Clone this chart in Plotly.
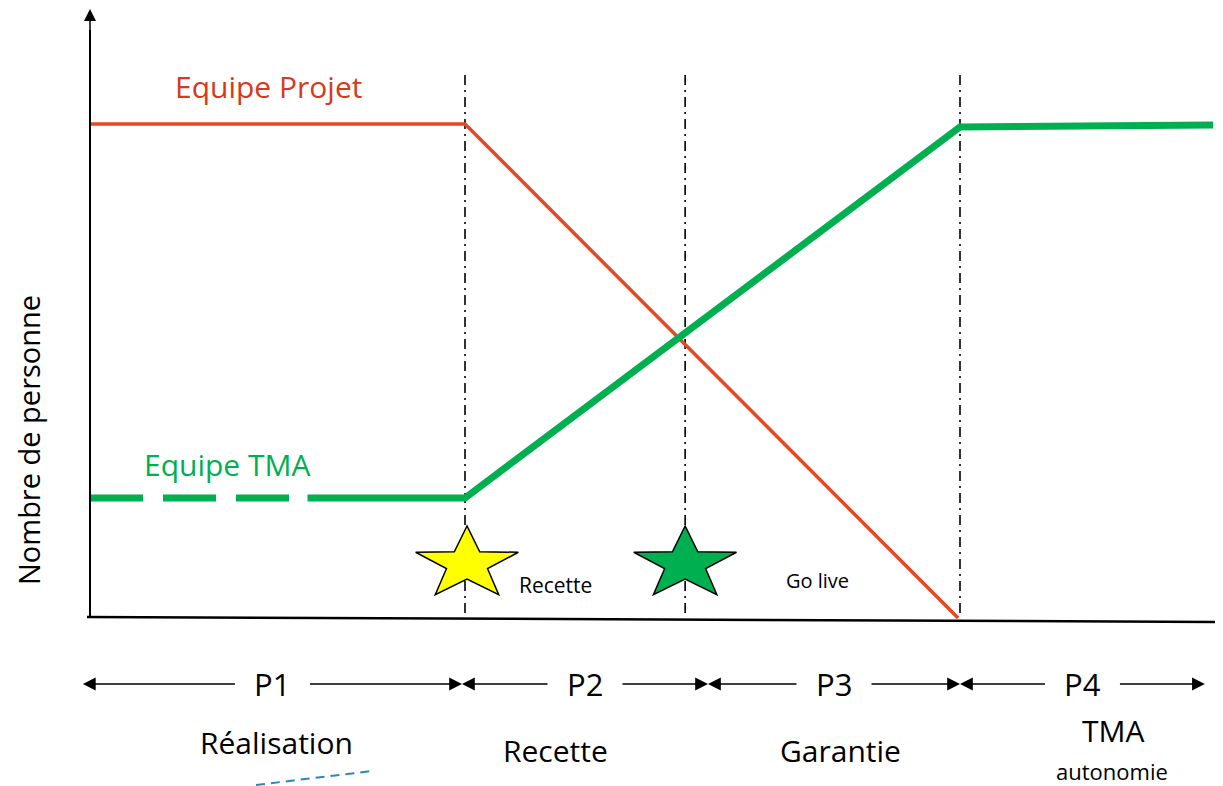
import numpy as np
import plotly.graph_objects as go

# ---------------- data ----------------
time_projet = [0, 10, 23.15]
staff_projet = [10, 10, 0]

time_tma = [0, 10, 23.2, 29.95]
staff_tma = [2.43, 2.43, 9.94, 9.98]
tma_dashed_until = 5.8          # informal ramp-up drawn dashed

phase_labels = ["P1", "P2", "P3", "P4"]
phase_names = ["Réalisation", "Recette", "Garantie", "TMA"]
phase_bounds = [-0.19, 9.92, 16.48, 23.2, 29.73]

milestone_names = ["Recette", "Go live"]
milestone_x = [10, 15.87]
milestone_colors = ["#FFFF00", "#00B050"]

separator_x = [10, 15.87, 23.2]

# ---------------- geometry helpers (page pixel -> data) ----------------
W, H = 1223, 786
OFF = 8                      # default page margin around the plot div
X0, KX = 90.0, 37.5
Y0, KY = 618.0, 49.4


def dx(px):
    return (px - X0) / KX


def dy(py):
    return (Y0 - py) / KY


def pxx(x):
    return X0 + x * KX


RED_LINE = "#E8481F"
RED_TEXT = "#D63A1A"
GREEN = "#00B050"
FONT = "Open Sans"

fig = go.Figure()

# Equipe Projet
fig.add_trace(go.Scatter(x=time_projet, y=staff_projet, mode="lines",
                         line=dict(color=RED_LINE, width=3.5),
                         hoverinfo="skip", showlegend=False))

# Equipe TMA: dashed start then solid
dash_x = [t for t in time_tma if t < tma_dashed_until] + [tma_dashed_until]
dash_y = list(np.interp(dash_x, time_tma, staff_tma))
solid_x = [tma_dashed_until] + [t for t in time_tma if t > tma_dashed_until]
solid_y = list(np.interp(solid_x, time_tma, staff_tma))
fig.add_trace(go.Scatter(x=dash_x, y=dash_y, mode="lines",
                         line=dict(color=GREEN, width=7, dash="53px,20px"),
                         hoverinfo="skip", showlegend=False))
fig.add_trace(go.Scatter(x=solid_x, y=solid_y, mode="lines",
                         line=dict(color=GREEN, width=7),
                         hoverinfo="skip", showlegend=False))

shapes = []
annotations = []

# axes lines
shapes.append(dict(type="line", xref="x", yref="y",
                   x0=dx(87), y0=dy(617), x1=dx(1223), y1=dy(622),
                   line=dict(color="black", width=2.5), layer="above"))
shapes.append(dict(type="line", xref="x", yref="y",
                   x0=dx(1221), y0=dy(613), x1=dx(1221), y1=dy(630),
                   line=dict(color="black", width=2)))
annotations.append(dict(x=dx(90), y=dy(9), ax=dx(90), ay=dy(618),
                        xref="x", yref="y", axref="x", ayref="y",
                        text="", showarrow=True, arrowhead=2, arrowsize=1.6,
                        arrowwidth=1.5, arrowcolor="black"))
shapes.append(dict(type="line", xref="x", yref="y",
                   x0=dx(90), y0=dy(618), x1=dx(90), y1=dy(30),
                   line=dict(color="black", width=2)))

# vertical separators
for sx in separator_x:
    shapes.append(dict(type="line", xref="x", yref="y",
                       x0=sx, y0=dy(75), x1=sx, y1=dy(618),
                       line=dict(color="black", width=1.6, dash="10px,5px,2px,5px"),
                       layer="below"))


# stars
def star_path(cx_px, cy_px, rx, ry):
    pts = []
    for k in range(10):
        ang = np.pi / 2 + k * np.pi / 5
        r = 1.0 if k % 2 == 0 else 0.40
        px = cx_px + rx * r * np.cos(ang)
        py = cy_px - ry * r * np.sin(ang)
        pts.append((dx(px), dy(py)))
    return "M " + " L ".join(f"{a:.4f},{b:.4f}" for a, b in pts) + " Z"


star_cy = 564
label_offsets = [(88, 21, 21), (132, 16, 20)]
for name, mx, col, (off, dyoff, fs) in zip(milestone_names, milestone_x,
                                            milestone_colors, label_offsets):
    cx = pxx(mx) + (2 if col == "#FFFF00" else 0)
    shapes.append(dict(type="path", xref="x", yref="y",
                       path=star_path(cx, star_cy, 54, 38),
                       fillcolor=col, line=dict(color="black", width=1.5)))
    annotations.append(dict(x=dx(cx + off), y=dy(star_cy + dyoff), xref="x", yref="y",
                            text=name, showarrow=False,
                            font=dict(family=FONT, size=fs, color="black")))

# series labels
annotations.append(dict(x=dx(268), y=dy(86), xref="x", yref="y", text="Equipe Projet",
                        showarrow=False, font=dict(family=FONT, size=30, color=RED_TEXT)))
annotations.append(dict(x=dx(227), y=dy(464), xref="x", yref="y", text="Equipe TMA",
                        showarrow=False, font=dict(family=FONT, size=30, color=GREEN)))

# y title
annotations.append(dict(x=dx(28), y=dy(440), xref="x", yref="y", text="Nombre de personne",
                        textangle=-90, showarrow=False,
                        font=dict(family=FONT, size=29, color="black")))

# phase arrows
arrow_y = dy(684)
half_gap = 36 / KX
for i, lab in enumerate(phase_labels):
    a, b = phase_bounds[i], phase_bounds[i + 1]
    mid = (a + b) / 2
    annotations.append(dict(x=mid, y=arrow_y, xref="x", yref="y", text=lab,
                            showarrow=False, font=dict(family=FONT, size=31, color="black")))
    for tail, head in ((mid - half_gap, a), (mid + half_gap, b)):
        annotations.append(dict(x=head, y=arrow_y, ax=tail, ay=arrow_y,
                                xref="x", yref="y", axref="x", ayref="y",
                                text="", showarrow=True, arrowhead=2, arrowsize=1.6,
                                arrowwidth=1.6, arrowcolor="black"))

# phase names
name_pos = [(276, 742, 30), (555, 750, 30), (840, 750, 30), (1113, 730, 30)]
for nm, (px, py, fs) in zip(phase_names, name_pos):
    annotations.append(dict(x=dx(px), y=dy(py), xref="x", yref="y", text=nm,
                            showarrow=False, font=dict(family=FONT, size=fs, color="black")))
annotations.append(dict(x=dx(1112), y=dy(771), xref="x", yref="y", text="autonomie",
                        showarrow=False, font=dict(family=FONT, size=22, color="black")))

# small blue dashed stroke (artifact in original)
shapes.append(dict(type="line", xref="x", yref="y",
                   x0=dx(256), y0=dy(785), x1=dx(372), y1=dy(771),
                   line=dict(color="#2E86B8", width=2, dash="9px,6px")))

fig.update_layout(
    width=W - OFF, height=H - OFF,
    margin=dict(l=0, r=0, t=0, b=0),
    paper_bgcolor="white", plot_bgcolor="white",
    xaxis=dict(range=[dx(OFF), dx(W)], visible=False, fixedrange=True),
    yaxis=dict(range=[dy(H), dy(OFF)], visible=False, fixedrange=True),
    shapes=shapes, annotations=annotations,
    showlegend=False,
)

fig.write_html("out.html")
